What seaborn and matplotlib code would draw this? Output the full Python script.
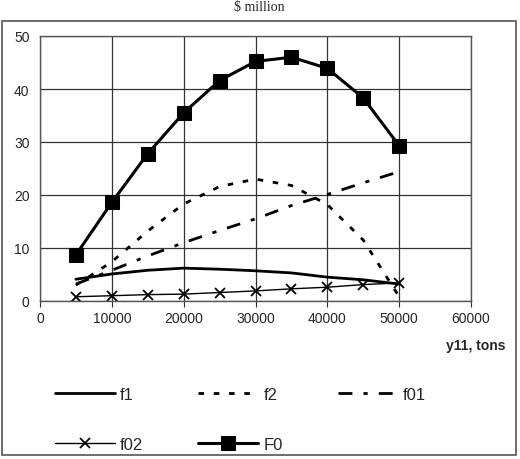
import numpy as np
import pandas as pd
import matplotlib
matplotlib.use("Agg")
import matplotlib.pyplot as plt
import seaborn as sns
from matplotlib.patches import Rectangle

# values
y11 = [5000, 10000, 15000, 20000, 25000, 30000, 35000, 40000, 45000, 50000]
f1 = [4.1, 5.1, 5.8, 6.2, 6.0, 5.7, 5.3, 4.5, 4.0, 3.2]
f2 = [3.0, 7.4, 13.2, 18.3, 21.6, 23.0, 21.8, 18.2, 11.5, 0.8]
f01 = [3.2, 5.8, 8.5, 11.0, 13.3, 15.5, 18.0, 20.1, 22.3, 24.4]
f02 = [0.8, 1.0, 1.2, 1.3, 1.6, 1.9, 2.3, 2.6, 3.1, 3.4]
F0 = [8.7, 18.6, 27.8, 35.5, 41.6, 45.2, 46.0, 43.9, 38.3, 29.3]

df = pd.DataFrame({"y11": y11, "f1": f1, "f2": f2, "f01": f01, "f02": f02, "F0": F0})

sns.set_style("white")
plt.rcParams["font.family"] = ["Liberation Sans", "DejaVu Sans"]

fig = plt.figure(figsize=(5.2, 4.6), dpi=100)
ax = fig.add_axes([40 / 520, 1 - 302 / 460, 431 / 520, 265 / 460])

styles = {
    "f1": dict(linewidth=2.0, linestyle="-"),
    "f2": dict(linewidth=2.0, dashes=(2, 3.5)),
    "f01": dict(linewidth=2.0, dashes=(5, 4, 1.5, 4)),
    "f02": dict(linewidth=1.0, marker="x", markersize=7, markeredgewidth=1.3,
                markeredgecolor="black"),
    "F0": dict(linewidth=2.2, marker="s", markersize=10, markeredgecolor="black"),
}
for name in ["f1", "f2", "f01", "f02", "F0"]:
    sns.lineplot(data=df, x="y11", y=name, ax=ax, color="black", label=name, **styles[name])

ax.set_xlim(0, 60000)
ax.set_ylim(0, 50)
ax.set_xticks(np.arange(0, 60001, 10000))
ax.set_yticks(np.arange(0, 51, 10))
ax.grid(True, color="#333333", linewidth=0.9)
for s in ax.spines.values():
    s.set_color("#555555")
    s.set_linewidth(1.0)
ax.tick_params(axis="both", labelsize=10, length=4, color="#333333", direction="out",
               bottom=True, left=False)
ax.set_xlabel("")
ax.set_ylabel("")

fig.text(505 / 520, 1 - 346 / 460, "y11, tons", ha="right", va="center",
         fontsize=10, fontweight="bold")
fig.text(259 / 520, 1 - 1 / 460, "$ million", ha="center", va="top",
         fontsize=10, family=["Liberation Serif"])

# legend filled column by column, so reorder to read row by row
handles, labels = ax.get_legend_handles_labels()
ax.get_legend().remove()
order = [0, 3, 1, 4, 2]
fig.legend([handles[i] for i in order], [labels[i] for i in order],
           loc="upper left", bbox_to_anchor=(40 / 520, 1 - 373 / 460),
           ncol=3, frameon=False, fontsize=12, handlelength=3.6, handletextpad=0.3,
           columnspacing=3.3, labelspacing=2.1)

fig.add_artist(Rectangle((2 / 520, 4 / 460), 514 / 520, 434 / 460, transform=fig.transFigure,
                         fill=False, edgecolor="#555555", linewidth=1.2))

fig.savefig("out.png", dpi=100)
